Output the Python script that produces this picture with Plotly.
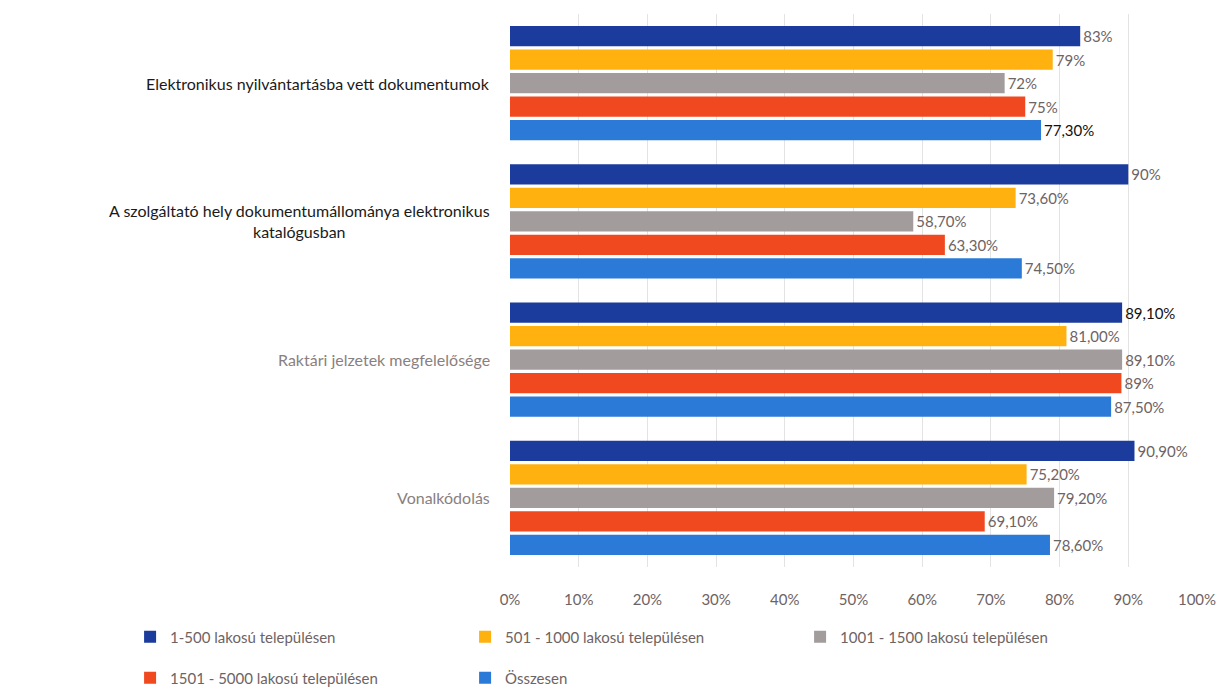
import plotly.graph_objects as go

categories = [
    "Elektronikus nyilvántartásba vett dokumentumok",
    "A szolgáltató hely dokumentumállománya elektronikus<br>katalógusban",
    "Raktári jelzetek megfelelősége",
    "Vonalkódolás",
]
category_colors = ["#1a1a1a", "#1a1a1a", "#8a7f80", "#8a7f80"]

series_names = [
    "1-500 lakosú településen",
    "501 - 1000 lakosú településen",
    "1001 - 1500 lakosú településen",
    "1501 - 5000 lakosú településen",
    "Összesen",
]
series_colors = ["#1b3c9c", "#ffb10f", "#a39c9c", "#f0481f", "#2c7ad8"]
series_legend = ["legend", "legend", "legend", "legend2", "legend2"]

v_1_500 = [83, 90, 89.1, 90.9]
v_501_1000 = [79, 73.6, 81.0, 75.2]
v_1001_1500 = [72, 58.7, 89.1, 79.2]
v_1501_5000 = [75, 63.3, 89, 69.1]
v_total = [77.3, 74.5, 87.5, 78.6]

t_1_500 = ["83%", "90%", "89,10%", "90,90%"]
t_501_1000 = ["79%", "73,60%", "81,00%", "75,20%"]
t_1001_1500 = ["72%", "58,70%", "89,10%", "79,20%"]
t_1501_5000 = ["75%", "63,30%", "89%", "69,10%"]
t_total = ["77,30%", "74,50%", "87,50%", "78,60%"]

values = [v_1_500, v_501_1000, v_1001_1500, v_1501_5000, v_total]
texts = [t_1_500, t_501_1000, t_1001_1500, t_1501_5000, t_total]

LABEL = "#6e6363"
DARK = "#111111"
text_colors = [
    [LABEL, LABEL, DARK, LABEL],
    [LABEL] * 4,
    [LABEL] * 4,
    [LABEL] * 4,
    [DARK, LABEL, LABEL, LABEL],
]

FONT = "Lato"

fig = go.Figure()
for name, col, vals, txt, tcol, lg in zip(series_names, series_colors, values, texts, text_colors, series_legend):
    fig.add_trace(go.Bar(
        y=categories, x=vals, name=name, orientation="h",
        marker=dict(color=col, line=dict(width=0)),
        text=txt, textposition="outside",
        textfont=dict(family=FONT, size=15, color=tcol),
        cliponaxis=False,
        hoverinfo="skip",
        legend=lg,
    ))

for cat, ccol in zip(categories, category_colors):
    fig.add_annotation(
        x=0, xref="paper", y=cat, yref="y",
        text=cat, showarrow=False, xanchor="right", align="center",
        xshift=-18, font=dict(family=FONT, size=16, color=ccol),
    )

legend_common = dict(
    orientation="h", x=-0.553, xanchor="left", yanchor="middle",
    entrywidth=290, entrywidthmode="pixels",
    font=dict(family=FONT, size=15, color=LABEL),
    traceorder="normal", itemwidth=30, bgcolor="rgba(0,0,0,0)",
)

fig.update_layout(
    width=1222, height=689,
    paper_bgcolor="white", plot_bgcolor="white",
    margin=dict(l=510, r=25, t=14, b=122, autoexpand=False),
    barmode="group", bargap=0.15, bargroupgap=0.14,
    font=dict(family=FONT, size=15, color=LABEL),
    xaxis=dict(
        range=[0, 100], dtick=10, ticksuffix="%",
        showgrid=True, gridcolor="#e3e3e3", gridwidth=1,
        zeroline=False, showline=False, ticks="",
        ticklabelstandoff=22,
        tickfont=dict(family=FONT, size=15, color=LABEL),
    ),
    yaxis=dict(
        autorange="reversed", showticklabels=False, ticks="",
        showgrid=False, zeroline=False, showline=False,
    ),
    legend=dict(y=-0.1266, **legend_common),
    legend2=dict(y=-0.2007, **legend_common),
    showlegend=True,
)

fig.write_html(
    "out.html",
    config={"displayModeBar": False},
    post_script="document.body.style.margin='0';document.body.style.overflow='hidden';",
)
